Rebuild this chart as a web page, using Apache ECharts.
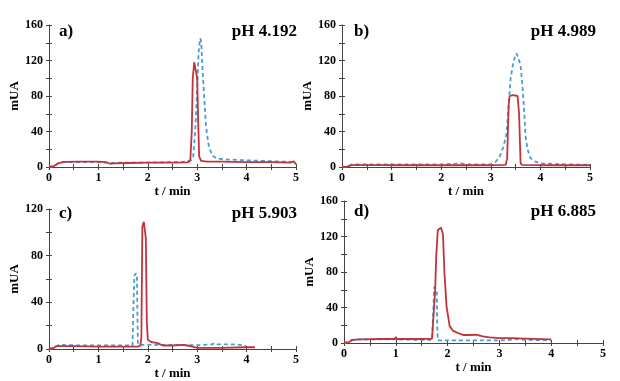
<!DOCTYPE html>
<html>
<head>
<meta charset="utf-8">
<script src="https://cdn.jsdelivr.net/npm/echarts@6/dist/echarts.min.js"></script>
<style>
  html, body { margin: 0; padding: 0; background: #fff; }
  #chart { width: 620px; height: 381px; }
</style>
</head>
<body>
<div id="chart"></div>
<script>
// [t / min, mUA]
var redA = [[0,0],[0.1,1],[0.2,4.5],[0.3,5.8],[0.6,6],[1.0,6],[1.15,5.5],[1.2,4.5],[1.25,3.5],[1.3,4],[1.6,4.5],[2.0,5],[2.5,5],[2.8,5.2],[2.86,7],[2.89,40],[2.91,100],[2.94,118],[2.98,118],[3.0,100],[3.02,50],[3.04,12],[3.08,7],[3.2,6],[3.5,6],[4.0,5.5],[4.5,5.5],[4.9,5],[4.95,6.5],[5.0,3]];
var blueA = [[0,0],[0.1,1],[0.2,4.5],[0.3,5.5],[1.0,5.5],[1.25,4.5],[1.5,5],[2.0,5],[2.5,5.5],[2.8,6],[2.88,8],[2.92,12],[2.96,40],[3.0,90],[3.03,130],[3.06,145],[3.08,142],[3.1,118],[3.14,80],[3.18,45],[3.23,25],[3.3,13],[3.4,9.5],[3.6,8.5],[4.0,7.5],[4.5,6.5],[5.0,5.5]];

var redB = [[0,0],[0.1,0.5],[0.2,2],[0.5,2.2],[1,2],[2,2],[3,2],[3.3,2.3],[3.33,10],[3.36,70],[3.38,80],[3.45,81],[3.54,80],[3.57,60],[3.6,5],[3.62,2.5],[4,2],[5,2]];
var blueB = [[0,0],[0.1,0.5],[0.2,3],[0.5,3],[1,3],[2,3],[2.4,4],[2.5,3],[3.0,3],[3.1,6],[3.18,12],[3.25,22],[3.32,38],[3.36,70],[3.4,100],[3.46,120],[3.52,128],[3.56,127],[3.6,115],[3.64,90],[3.67,65],[3.7,35],[3.74,20],[3.8,10],[3.9,6],[4.0,4],[4.5,3],[5,2.5]];

var redC = [[0,0],[0.1,1],[0.15,2.5],[0.5,2.5],[1,2],[1.5,2],[1.8,2],[1.85,3],[1.87,10],[1.89,105],[1.92,109],[1.94,108],[1.96,95],[1.97,60],[1.98,24],[2.0,8],[2.07,6],[2.14,5.5],[2.2,5],[2.3,3],[2.5,3],[2.7,3.5],[2.8,3],[2.9,2],[3.0,1],[3.5,1],[4.0,1.5],[4.17,1.5]];
var blueC = [[0,0],[0.1,1],[0.2,3.5],[0.5,3.2],[1,3],[1.5,3],[1.69,3],[1.71,40],[1.73,63],[1.76,65],[1.78,62],[1.79,30],[1.8,4],[1.9,3.5],[2.5,3.5],[3.0,3.2],[3.3,4],[3.35,5],[3.4,4],[3.8,4],[4.0,2.5]];

var redD = [[0,0],[0.1,1],[0.15,3.5],[0.3,4],[0.33,6],[0.36,4],[0.7,4.5],[0.98,4.5],[1.0,7],[1.02,4.5],[1.5,4.5],[1.7,5],[1.73,6],[1.76,60],[1.78,97],[1.81,127],[1.84,129],[1.87,130],[1.91,123],[1.94,78],[1.98,41],[2.04,19],[2.1,14],[2.17,12],[2.3,9],[2.4,9],[2.55,9.3],[2.68,7.5],[2.81,6.4],[3.0,5.5],[3.2,5.5],[3.22,7],[3.24,5.5],[3.5,5],[4.0,4]];
var blueD = [[0,0],[0.1,1],[0.15,3],[0.3,4],[0.7,4],[1.0,4],[1.5,3.5],[1.7,3.5],[1.72,30],[1.74,63],[1.77,65],[1.79,60],[1.8,20],[1.81,3],[2.0,3],[2.5,3],[3.0,3],[3.2,3.5],[3.35,4.5],[3.5,3.5],[4.0,3]];

var panelLetters = ['a)', 'b)', 'c)', 'd)'];
var panelPH = ['pH 4.192', 'pH 4.989', 'pH 5.903', 'pH 6.885'];
var yMax = [160, 160, 120, 160];
var xMax = 5;

var dom = document.getElementById('chart');
var myChart = echarts.init(dom);

var serif = '"Liberation Serif", "Times New Roman", serif';
var axisCol = '#444';
var redCol = '#c0353c';
var blueCol = '#4a9bd0';

var grids = [
  { left: 49, top: 25, width: 247, height: 142 },
  { left: 342, top: 25, width: 248, height: 142 },
  { left: 49, top: 209, width: 247, height: 143 },
  { left: 344, top: 201, width: 259, height: 142 }
];
// title anchors: letter left x, pH right x, centre y
var titlePos = [[59, 297, 33], [354, 596, 33], [59, 297, 215], [354, 596, 213]];

var reds = [redA, redB, redC, redD];
var blues = [blueA, blueB, blueC, blueD];

var xAxes = [], yAxes = [], series = [], titles = [];

for (var i = 0; i < 4; i++) {
  // main axes: ticks pointing out, labels
  xAxes.push({
    type: 'value', gridIndex: i, min: 0, max: xMax, interval: 0.5, position: 'bottom',
    name: 't / min', nameLocation: 'middle', nameGap: 18,
    nameTextStyle: { fontFamily: serif, fontWeight: 'bold', fontSize: 13, color: '#000' },
    axisLine: { show: true, lineStyle: { color: axisCol, width: 1 } },
    axisTick: { show: true, length: 3, lineStyle: { color: axisCol } },
    axisLabel: { fontFamily: serif, fontWeight: 'bold', fontSize: 12, color: '#000', margin: 5,
      formatter: function (v) { return v % 1 === 0 ? String(v) : ''; } },
    splitLine: { show: false }
  });
  yAxes.push({
    type: 'value', gridIndex: i, min: 0, max: yMax[i], interval: 20, position: 'left',
    name: 'mUA', nameLocation: 'middle', nameGap: 25,
    nameTextStyle: { fontFamily: serif, fontWeight: 'bold', fontSize: 13, color: '#000' },
    axisLine: { show: true, lineStyle: { color: axisCol, width: 1 } },
    axisTick: { show: true, length: 3, lineStyle: { color: axisCol } },
    axisLabel: { fontFamily: serif, fontWeight: 'bold', fontSize: 12, color: '#000', margin: 6,
      formatter: function (v) { return v % 40 === 0 ? String(v) : ''; } },
    splitLine: { show: false }
  });
}
// overlay axes with inward ticks so the ticks cross the axis line
for (var j = 0; j < 4; j++) {
  xAxes.push({
    type: 'value', gridIndex: j, min: 0, max: xMax, interval: 0.5, position: 'bottom',
    axisLine: { show: false }, axisLabel: { show: false }, splitLine: { show: false },
    axisTick: { show: true, inside: true, length: 3, lineStyle: { color: axisCol } }
  });
  yAxes.push({
    type: 'value', gridIndex: j, min: 0, max: yMax[j], interval: 20, position: 'left',
    axisLine: { show: false }, axisLabel: { show: false }, splitLine: { show: false },
    axisTick: { show: true, inside: true, length: 3, lineStyle: { color: axisCol } }
  });
}

for (var k = 0; k < 4; k++) {
  series.push({
    type: 'line', xAxisIndex: k, yAxisIndex: k, data: blues[k],
    showSymbol: false, silent: true,
    lineStyle: { color: blueCol, width: 1.8, type: [4, 3] }
  });
  series.push({
    type: 'line', xAxisIndex: k, yAxisIndex: k, data: reds[k],
    showSymbol: false, silent: true,
    lineStyle: { color: redCol, width: 1.8 }
  });
  titles.push({
    text: panelLetters[k], left: titlePos[k][0], top: titlePos[k][2] - 10, padding: 0,
    textStyle: { fontFamily: serif, fontWeight: 'bold', fontSize: 17, color: '#000' }
  });
  titles.push({
    text: panelPH[k], right: 620 - titlePos[k][1], top: titlePos[k][2] - 10, padding: 0,
    textStyle: { fontFamily: serif, fontWeight: 'bold', fontSize: 17, color: '#000' }
  });
}

var option = {
  backgroundColor: '#fff',
  animation: false,
  title: titles,
  grid: grids,
  xAxis: xAxes,
  yAxis: yAxes,
  series: series
};

if (option && typeof option === 'object') {
  myChart.setOption(option);
}

window.onresize = function () {
  myChart.resize();
};
</script>
</body>
</html>
